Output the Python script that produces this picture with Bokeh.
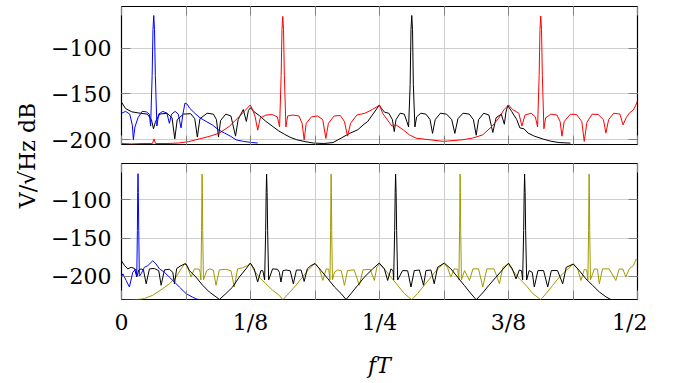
import math
from bokeh.plotting import figure
from bokeh.layouts import row, column
from bokeh.models import Range1d, FixedTicker, LinearAxis, CustomLabelingPolicy
from bokeh.embed import file_html
from bokeh.resources import INLINE
from bokeh.core.properties import value

# ---------------- data (fT, dB) ----------------
TOP_BLACK = [
    (0.000, -159.0), (0.004, -166.0), (0.010, -169.5), (0.018, -171.0), (0.025, -172.0),
    (0.029, -178.0), (0.031, -188.0), (0.033, -180.0), (0.037, -172.0), (0.044, -171.0),
    (0.049, -176.0), (0.0516, -199.0), (0.054, -178.0), (0.060, -172.0), (0.067, -171.5),
    (0.071, -177.0), (0.0735, -197.0), (0.076, -177.0), (0.083, -171.0), (0.089, -172.0),
    (0.092, -178.0), (0.094, -197.0), (0.096, -179.0), (0.101, -172.0), (0.106, -174.0),
    (0.1105, -196.0), (0.113, -178.0), (0.118, -167.0), (0.121, -180.0), (0.123, -168.0),
    (0.125, -165.0), (0.128, -169.0), (0.134, -174.0), (0.140, -180.0), (0.146, -185.0),
    (0.152, -190.0), (0.158, -194.0), (0.164, -197.5), (0.170, -200.0), (0.178, -202.0),
    (0.186, -203.5), (0.196, -204.0), (0.205, -203.0), (0.213, -198.0), (0.221, -193.0),
    (0.229, -189.0), (0.235, -183.0), (0.2386, -180.0), (0.243, -173.0), (0.2466, -167.4),
    (0.2498, -162.0), (0.252, -166.0), (0.255, -170.0), (0.259, -171.0), (0.2625, -178.0),
    (0.2643, -191.0), (0.266, -178.0), (0.270, -171.0), (0.274, -172.0), (0.2765, -180.0),
    (0.2782, -186.0), (0.2797, -140.0), (0.2805, -80.0), (0.28125, -64.5), (0.2820, -80.0),
    (0.2828, -140.0), (0.2843, -186.0), (0.286, -175.0), (0.290, -171.0), (0.295, -172.0),
    (0.299, -178.0), (0.3014, -193.0), (0.304, -178.0), (0.309, -171.0), (0.315, -172.0),
    (0.320, -178.0), (0.323, -193.0), (0.326, -177.0), (0.331, -171.0), (0.337, -172.0),
    (0.341, -178.0), (0.3437, -195.0), (0.346, -178.0), (0.351, -171.0), (0.356, -173.0),
    (0.3598, -192.0), (0.363, -176.0), (0.368, -172.0), (0.371, -183.0), (0.3725, -170.0),
    (0.3743, -162.6), (0.378, -169.0), (0.383, -178.0), (0.386, -187.0), (0.390, -188.0),
    (0.394, -192.7), (0.400, -196.0), (0.408, -199.0), (0.416, -201.5), (0.424, -203.0),
    (0.435, -203.6),
]

TOP_RED = [
    (0.000, -204.0), (0.010, -204.5), (0.020, -204.0), (0.030, -204.0), (0.0315, -199.0),
    (0.033, -204.0), (0.045, -204.0), (0.055, -203.5), (0.065, -202.0), (0.072, -200.0),
    (0.085, -196.3), (0.0948, -192.7), (0.1044, -185.4), (0.1125, -176.4), (0.119, -169.0),
    (0.1248, -162.0), (0.127, -167.0), (0.1295, -175.0), (0.132, -189.5), (0.1345, -176.0),
    (0.140, -173.0), (0.146, -172.5), (0.151, -175.0), (0.1532, -186.0), (0.1547, -130.0),
    (0.1555, -80.0), (0.15625, -65.5), (0.1570, -80.0), (0.1578, -130.0), (0.1593, -186.0),
    (0.161, -174.0), (0.166, -173.0), (0.172, -174.0), (0.175, -182.0), (0.177, -200.0),
    (0.179, -182.0), (0.184, -175.0), (0.190, -174.0), (0.195, -178.0), (0.198, -198.5),
    (0.2005, -182.0), (0.206, -174.0), (0.212, -173.5), (0.216, -180.0), (0.219, -196.0),
    (0.222, -182.0), (0.228, -173.0), (0.236, -171.0), (0.243, -167.0), (0.250, -162.3),
    (0.253, -171.0), (0.2565, -176.4), (0.262, -185.0), (0.266, -183.7), (0.273, -189.1),
    (0.279, -194.6), (0.2855, -198.2), (0.299, -200.0), (0.312, -201.7), (0.330, -200.0),
    (0.340, -198.2), (0.350, -194.6), (0.359, -185.4), (0.3655, -176.4), (0.3705, -167.4),
    (0.375, -162.0), (0.379, -167.0), (0.385, -171.0), (0.388, -185.0), (0.391, -173.0),
    (0.397, -171.0), (0.401, -175.0), (0.4032, -186.0), (0.4047, -130.0), (0.4055, -80.0),
    (0.40625, -65.0), (0.4070, -80.0), (0.4078, -130.0), (0.4093, -188.0), (0.411, -176.0),
    (0.416, -172.0), (0.422, -173.0), (0.425, -180.0), (0.4268, -196.0), (0.429, -180.0),
    (0.435, -172.0), (0.441, -172.5), (0.446, -180.0), (0.4484, -201.7), (0.451, -181.0),
    (0.456, -172.0), (0.462, -172.5), (0.467, -178.0), (0.4694, -192.7), (0.472, -178.0),
    (0.477, -171.0), (0.483, -172.0), (0.486, -183.7), (0.489, -176.0), (0.492, -171.0),
    (0.496, -167.4), (0.4985, -162.0), (0.500, -157.6),
]

TOP_BLUE = [
    (0.000, -171.0), (0.004, -169.0), (0.008, -172.0), (0.0105, -184.0), (0.0115, -200.0),
    (0.013, -186.0), (0.016, -176.0), (0.020, -169.0), (0.024, -169.5), (0.027, -172.0),
    (0.0282, -185.0), (0.0297, -130.0), (0.0305, -80.0), (0.03125, -64.5), (0.0320, -80.0),
    (0.0328, -130.0), (0.0343, -185.0), (0.036, -172.0), (0.040, -169.0), (0.044, -171.0),
    (0.0464, -182.0), (0.0485, -172.0), (0.052, -169.0), (0.055, -172.0), (0.0577, -187.0),
    (0.0595, -172.0), (0.0615, -160.0), (0.0635, -161.0), (0.066, -165.5), (0.071, -171.0),
    (0.076, -176.0), (0.082, -180.0), (0.088, -183.7), (0.094, -189.1), (0.100, -192.7),
    (0.106, -196.3), (0.111, -200.0), (0.118, -201.7), (0.126, -202.9), (0.132, -203.5),
]

BOT_BLACK = [
    (0.000, -180.0), (0.0029, -186.0), (0.0061, -190.5), (0.0093, -188.4), (0.0126, -190.0),
    (0.0148, -201.0), (0.0168, -192.0), (0.0190, -190.5), (0.0213, -192.0), (0.0239, -210.0),
    (0.0271, -190.5), (0.0319, -190.0), (0.0361, -193.0), (0.0384, -212.0), (0.0416, -191.8),
    (0.0464, -191.0), (0.0497, -195.0), (0.0513, -210.0), (0.0535, -190.0), (0.0567, -187.0),
    (0.0609, -184.1), (0.0625, -184.0), (0.0658, -192.7), (0.0722, -201.3), (0.0787, -212.1),
    (0.0851, -220.8), (0.0916, -227.2), (0.0948, -230.7), (0.1012, -222.9), (0.1077, -214.3),
    (0.1141, -201.3), (0.1206, -190.5), (0.1248, -182.8), (0.1286, -190.5), (0.1319, -207.8),
    (0.1351, -192.7), (0.1370, -193.0), (0.1387, -205.0), (0.1397, -140.0), (0.1402, -90.0),
    (0.1406, -66.0), (0.1411, -90.0), (0.1416, -140.0), (0.1426, -205.0), (0.1464, -190.5),
    (0.1512, -191.0), (0.1530, -195.0), (0.1545, -207.8), (0.1565, -192.7), (0.1595, -192.0),
    (0.1635, -193.0), (0.1665, -210.0), (0.1695, -192.0), (0.1740, -192.0), (0.1770, -207.0),
    (0.1800, -190.5), (0.1835, -186.2), (0.1876, -183.5), (0.1934, -192.7), (0.2000, -203.5),
    (0.2064, -214.3), (0.2128, -222.9), (0.2176, -230.7), (0.2224, -222.9), (0.2289, -212.1),
    (0.2353, -201.3), (0.2434, -190.5), (0.2498, -182.8), (0.2547, -190.5), (0.2579, -205.7),
    (0.2611, -190.5), (0.2632, -193.0), (0.2637, -205.0), (0.2647, -140.0), (0.2652, -90.0),
    (0.2656, -66.0), (0.2661, -90.0), (0.2666, -140.0), (0.2676, -205.0), (0.2724, -192.7),
    (0.2773, -193.0), (0.2805, -214.3), (0.2837, -192.7), (0.2886, -192.0), (0.2927, -212.0),
    (0.2950, -192.7), (0.2998, -192.0), (0.3030, -210.0), (0.3063, -188.4), (0.3127, -182.8),
    (0.3192, -190.5), (0.3257, -201.3), (0.3321, -212.1), (0.3380, -222.0), (0.3437, -231.0),
    (0.3500, -222.0), (0.3560, -212.0), (0.3625, -202.0), (0.3690, -192.0), (0.3750, -183.0),
    (0.3787, -190.5), (0.3823, -203.5), (0.3855, -192.0), (0.3877, -193.0), (0.3887, -205.0),
    (0.3897, -140.0), (0.3902, -90.0), (0.3906, -66.0), (0.3911, -90.0), (0.3916, -140.0),
    (0.3926, -205.0), (0.3950, -192.7), (0.3980, -195.0), (0.4000, -214.3), (0.4035, -192.7),
    (0.4090, -192.7), (0.4130, -214.3), (0.4165, -192.7), (0.4225, -192.7), (0.4275, -210.0),
    (0.4310, -188.4), (0.4378, -184.1), (0.4436, -192.7), (0.4500, -203.5), (0.4565, -212.1),
    (0.4630, -220.8), (0.4694, -227.2), (0.4742, -230.7),
]

BOT_OLIVE = [
    (0.000, -231.5), (0.010, -231.0), (0.018, -230.5), (0.0222, -229.4), (0.0303, -225.1),
    (0.0400, -216.4), (0.0464, -210.0), (0.0529, -201.3), (0.0577, -190.5), (0.0616, -183.3),
    (0.0642, -188.4), (0.0674, -201.3), (0.0706, -190.5), (0.0754, -191.0), (0.0762, -195.0),
    (0.0769, -205.0), (0.0776, -140.0), (0.0779, -90.0), (0.0781, -66.0), (0.0784, -90.0),
    (0.0787, -140.0), (0.0794, -205.0), (0.0825, -193.0), (0.0851, -190.5), (0.0890, -192.0),
    (0.0916, -212.1), (0.0948, -191.8), (0.1012, -191.0), (0.1061, -193.0), (0.1093, -214.3),
    (0.1125, -190.5), (0.1173, -189.0), (0.1222, -186.0), (0.1250, -183.5), (0.1286, -192.7),
    (0.1335, -201.3), (0.1399, -210.0), (0.1464, -218.6), (0.1528, -225.1), (0.1563, -231.0),
    (0.1625, -222.0), (0.1690, -212.0), (0.1750, -202.0), (0.1810, -192.0), (0.1875, -183.3),
    (0.1918, -190.5), (0.1951, -205.7), (0.1983, -190.5), (0.2008, -191.0), (0.2020, -205.0),
    (0.2026, -140.0), (0.2029, -90.0), (0.2031, -66.0), (0.2034, -90.0), (0.2037, -140.0),
    (0.2044, -205.0), (0.2064, -195.0), (0.2095, -191.8), (0.2130, -193.0), (0.2160, -212.1),
    (0.2190, -192.7), (0.2255, -191.8), (0.2305, -212.1), (0.2340, -191.8), (0.2410, -191.0),
    (0.2450, -205.7), (0.2475, -188.0), (0.2500, -184.1), (0.2547, -190.5), (0.2611, -201.3),
    (0.2676, -212.1), (0.2740, -222.9), (0.2812, -231.0), (0.2869, -222.9), (0.2934, -212.1),
    (0.2998, -201.3), (0.3063, -190.5), (0.3125, -183.3), (0.3159, -188.4), (0.3191, -201.3),
    (0.3224, -190.5), (0.3258, -191.0), (0.3269, -205.0), (0.3276, -140.0), (0.3279, -90.0),
    (0.3281, -66.0), (0.3284, -90.0), (0.3287, -140.0), (0.3294, -205.0), (0.3324, -192.7),
    (0.3372, -205.7), (0.3405, -190.5), (0.3460, -190.5), (0.3501, -214.3), (0.3540, -190.5),
    (0.3610, -190.5), (0.3662, -210.0), (0.3695, -188.4), (0.3750, -184.1), (0.3791, -192.7),
    (0.3856, -203.5), (0.3920, -212.1), (0.3985, -222.9), (0.4063, -231.0), (0.4114, -222.9),
    (0.4178, -212.1), (0.4243, -201.3), (0.4307, -192.7), (0.4378, -184.1), (0.4420, -190.5),
    (0.4452, -205.7), (0.4485, -191.0), (0.4508, -192.0), (0.4519, -205.0), (0.4526, -140.0),
    (0.4529, -90.0), (0.4531, -66.0), (0.4534, -90.0), (0.4537, -140.0), (0.4544, -205.0),
    (0.4565, -197.0), (0.4581, -190.5), (0.4612, -191.0), (0.4630, -210.0), (0.4661, -190.5),
    (0.4725, -190.5), (0.4790, -205.7), (0.4823, -190.5), (0.4860, -191.0), (0.4887, -201.3),
    (0.4920, -190.5), (0.4960, -186.0), (0.4987, -178.0), (0.5000, -180.0),
]

BOT_BLUE = [
    (0.000, -201.3), (0.0013, -197.0), (0.0045, -205.7), (0.0077, -214.3), (0.0109, -194.9),
    (0.0140, -190.5), (0.0148, -200.0), (0.0154, -140.0), (0.0157, -90.0), (0.0160, -65.5),
    (0.0163, -90.0), (0.0167, -140.0), (0.0173, -200.0), (0.0190, -197.0), (0.0222, -188.4),
    (0.0255, -186.2), (0.0303, -179.8), (0.0335, -184.1), (0.0368, -190.5), (0.0416, -194.9),
    (0.0464, -201.3), (0.0513, -207.8), (0.0561, -214.3), (0.0625, -222.9), (0.0690, -227.7),
    (0.0720, -229.6), (0.0760, -231.5),
]

X_TICKS = [0.0, 0.125, 0.25, 0.375, 0.5]
X_MINOR_TICKS = [0.0625, 0.1875, 0.3125, 0.4375]
X_LABELS = ["0", "1/8", "1/4", "3/8", "1/2"]
Y_TICKS = [-200, -150, -100]
Y_LABELS = ["\u2212200", "\u2212150", "\u2212100"]
Y_LABEL_TEXT = "V/\u221aHz dB"
X_LABEL_TEXT = "fT"

TOP_RANGE = (-205.1, -54.7)
BOT_RANGE = (-230.7, -52.1)

FONT = "DejaVu Serif"
GRID = "#cfcfcf"
TICK = "#808080"

NO_LABELS = CustomLabelingPolicy(code="""
for (const i of indices)
  indices.unset(i)
""")


def unzip(pts):
    return [p[0] for p in pts], [p[1] for p in pts]


def style_axis(ax, ticker, overrides, show_labels):
    ax.ticker = ticker
    ax.major_label_overrides = overrides
    ax.axis_line_color = None
    ax.major_tick_in = 9
    ax.major_tick_out = 0
    ax.minor_tick_in = 9
    ax.minor_tick_out = 0
    ax.major_tick_line_color = TICK
    ax.minor_tick_line_color = TICK
    if show_labels:
        ax.major_label_text_font = FONT
        ax.major_label_text_font_size = "22px"
        ax.major_label_text_color = "black"
        ax.major_label_standoff = 10
    else:
        ax.major_label_policy = NO_LABELS
        ax.major_label_text_font_size = "0px"
        ax.major_label_standoff = 0


def make_panel(height, yr, border_top, border_bottom, show_xlabels, xlabel=None):
    p = figure(width=599, height=height, x_range=Range1d(0, 0.5), y_range=Range1d(*yr),
               toolbar_location=None, output_backend="svg", title=None,
               min_border_left=72, min_border_right=10,
               min_border_top=border_top, min_border_bottom=border_bottom)
    xt = FixedTicker(ticks=X_TICKS, minor_ticks=X_MINOR_TICKS)
    yt = FixedTicker(ticks=Y_TICKS)
    xo = {t: l for t, l in zip(X_TICKS, X_LABELS)}
    yo = {t: l for t, l in zip(Y_TICKS, Y_LABELS)}
    bx = p.below[0]
    style_axis(bx, xt, xo, show_xlabels)
    style_axis(p.left[0], yt, yo, True)
    if xlabel is not None:
        bx.axis_label = xlabel
        bx.axis_label_text_font = FONT
        bx.axis_label_text_font_size = "22px"
        bx.axis_label_text_font_style = "italic"
        bx.axis_label_text_color = "black"
        bx.axis_label_standoff = 15
    ra = LinearAxis()
    style_axis(ra, FixedTicker(ticks=Y_TICKS), yo, False)
    p.add_layout(ra, "right")
    ta = LinearAxis()
    style_axis(ta, FixedTicker(ticks=X_TICKS, minor_ticks=X_MINOR_TICKS), xo, False)
    p.add_layout(ta, "above")
    p.xgrid.ticker = xt
    p.ygrid.ticker = yt
    p.grid.grid_line_color = GRID
    p.grid.grid_line_width = 1
    p.xgrid.minor_grid_line_color = GRID
    p.xgrid.minor_grid_line_width = 1
    p.outline_line_color = "black"
    p.outline_line_width = 1.2
    p.background_fill_color = "white"
    p.border_fill_color = "white"
    return p


top = make_panel(154, TOP_RANGE, 6, 10, False)
for pts, col in [(TOP_BLACK, "black"), (TOP_RED, "#ff0000"), (TOP_BLUE, "#0000ff")]:
    xs, ys = unzip(pts)
    top.line(xs, ys, line_color=col, line_width=1)

bot = make_panel(226, BOT_RANGE, 9, 79, True, X_LABEL_TEXT)
for pts, col in [(BOT_OLIVE, "#a09a00"), (BOT_BLACK, "black"), (BOT_BLUE, "#0000ff")]:
    xs, ys = unzip(pts)
    bot.line(xs, ys, line_color=col, line_width=1)

lab = figure(width=48, height=380, x_range=Range1d(0, 1), y_range=Range1d(0, 1),
             toolbar_location=None, output_backend="svg", title=None,
             x_axis_location=None, y_axis_location=None, min_border=0)
lab.grid.visible = False
lab.outline_line_color = None
lab.text(x=[0.5625], y=[0.592], text=[Y_LABEL_TEXT], angle=math.pi / 2,
         text_align="center", text_baseline="middle",
         text_font=value(FONT), text_font_size="22px", text_color="black")

layout = row(lab, column(top, bot))

open("out.html", "w").write(file_html(layout, INLINE))
